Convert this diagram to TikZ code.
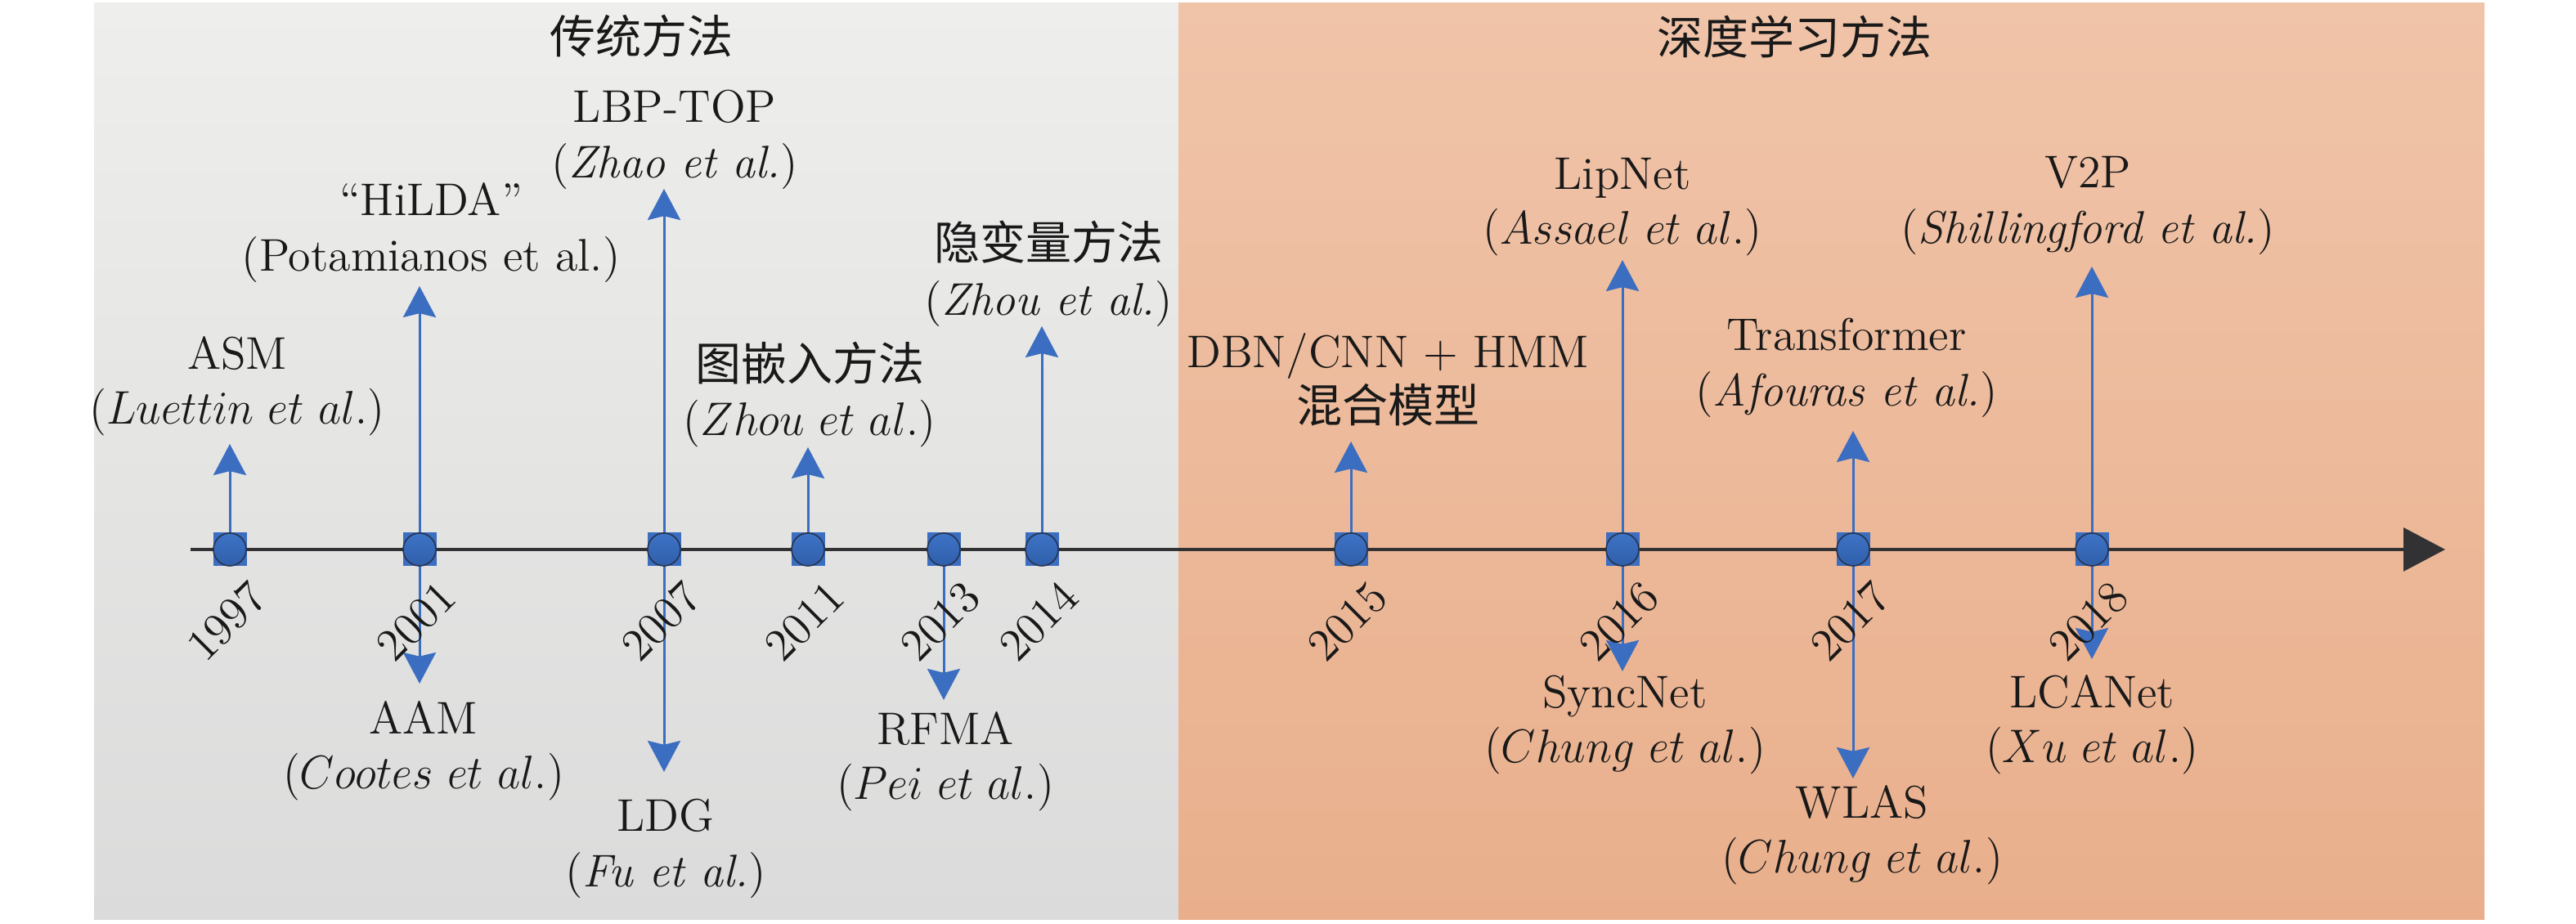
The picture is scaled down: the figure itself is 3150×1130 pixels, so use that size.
\documentclass[tikz,border=0pt]{standalone}
\usepackage{fontspec}
\usepackage{graphicx}
\newfontfamily\cjk{Noto Sans CJK SC}
\usetikzlibrary{arrows.meta,calc}
\definecolor{evblue}{RGB}{59,109,192}
\definecolor{dottop}{RGB}{62,115,198}
\definecolor{dotbot}{RGB}{47,95,170}
\definecolor{dotedge}{RGB}{40,52,78}
\definecolor{axiscol}{RGB}{50,50,52}
\definecolor{graytop}{RGB}{238,238,236}
\definecolor{graybot}{RGB}{219,219,219}
\definecolor{orgtop}{RGB}{240,196,169}
\definecolor{orgbot}{RGB}{233,175,140}
\definecolor{txt}{RGB}{25,25,25}
\newcommand\mymi[1]{\scalebox{0.95}[1]{$#1$}}
\pgfdeclarelayer{bg}
\pgfdeclarelayer{arr}
\pgfsetlayers{bg,arr,main}
\tikzset{
  fnt/.style={font=\fontsize{14}{16.8}\selectfont, text=txt},
  lbl/.style={fnt, align=center, inner sep=0pt, anchor=south},
  ttl/.style={fnt, inner sep=0pt},
  yearlbl/.style={fnt, inner sep=0pt, rotate=45},
  sq/.style={rectangle, fill=evblue, minimum size=10.25pt, inner sep=0pt},
  dot/.style={circle, draw=dotedge, line width=0.4pt, top color=dottop, bottom color=dotbot, minimum size=10pt, inner sep=0pt},
  evarrow/.style={draw=evblue, line width=0.75pt, -{Stealth[length=9.5pt,width=10pt,inset=1.2pt]}},
  axisline/.style={draw=axiscol, line width=0.85pt, -{Triangle[length=12.75pt,width=13.25pt]}}
}
\begin{document}
\begin{tikzpicture}[x=0.25pt,y=-0.25pt]
\useasboundingbox (0,0) rectangle (3150,1130);
\begin{pgfonlayer}{bg}
  \fill[top color=graytop, bottom color=graybot] (115,4) rectangle (1441,1125);
  \fill[top color=orgtop, bottom color=orgbot] (1441,4) rectangle (3038,1125);
\end{pgfonlayer}

% titles
\node[ttl] (t1) at (784,44) {\cjk 传统方法};
\node[ttl] (t2) at (2194,45) {\cjk 深度学习方法};

% axis
\coordinate (axs) at (233,672);
\coordinate (axe) at (2990,672);
\begin{pgfonlayer}{arr}
  \draw[axisline] (axs) -- (axe);
\end{pgfonlayer}

% markers and years
\foreach \yr/\xx in {1997/281,2001/513,2007/812,2011/988,2013/1154,2014/1274,2015/1652,2016/1984,2017/2266,2018/2558}{
  \node[sq] (m\yr) at (\xx,672) {};
  \node[dot] (c\yr) at (m\yr) {};
  \node[yearlbl] (y\yr) at (\xx-4,760) {\yr};
}

% arrow end points
\coordinate (u1997) at (281,543);
\coordinate (u2001) at (513,350);
\coordinate (u2007) at (812,231);
\coordinate (u2011) at (988,547);
\coordinate (u2014) at (1274,399);
\coordinate (u2015) at (1652,540);
\coordinate (u2016) at (1984,318);
\coordinate (u2017) at (2266,527);
\coordinate (u2018) at (2558,326);
\coordinate (d2001) at (513,836);
\coordinate (d2007) at (812,944);
\coordinate (d2013) at (1154,856);
\coordinate (d2016) at (1984,821);
\coordinate (d2017) at (2266,952);
\coordinate (d2018) at (2558,806);

\begin{pgfonlayer}{arr}
  \foreach \yr in {1997,2001,2007,2011,2014,2015,2016,2017,2018}{
    \draw[evarrow] (m\yr.center) -- (u\yr);
  }
  \foreach \yr in {2001,2007,2013,2016,2017,2018}{
    \draw[evarrow] (m\yr.center) -- (d\yr);
  }
\end{pgfonlayer}

% labels above
\node[lbl] (asm) at (290,534) {ASM\\\mymi{(Luettin\ et\ al.)}};
\node[lbl] (hilda) at (527,346) {“HiLDA”\\(Potamianos et al.)};
\node[lbl] (lbp) at (825,232) {LBP-TOP\\(\textit{Zhao et al.})};
\node[lbl] (graph) at (990,548) {{\cjk 图嵌入方法}\\\mymi{(Zhou\ et\ al.)}};
\node[lbl] (latent) at (1282,400) {{\cjk 隐变量方法}\\(\textit{Zhou et al.})};
\node[lbl] (dbn) at (1697,522) {DBN/CNN + HMM\\{\cjk 混合模型}};
\node[lbl] (lipnet) at (1984,314) {LipNet\\\mymi{(Assael\ et\ al.)}};
\node[lbl] (trans) at (2258,511) {Transformer\\(\textit{Afouras et al.})};
\node[lbl] (v2p) at (2553,312) {V2P\\(\textit{Shillingford et al.})};

% labels below
\node[lbl] (aam) at (518,980) {AAM\\\mymi{(Cootes\ et\ al.)}};
\node[lbl] (ldg) at (814,1099) {LDG\\(\textit{Fu et al.})};
\node[lbl] (rfma) at (1156,993) {RFMA\\\mymi{(Pei\ et\ al.)}};
\node[lbl] (sync) at (1987,948) {SyncNet\\\mymi{(Chung\ et\ al.)}};
\node[lbl] (wlas) at (2277,1083) {WLAS\\\mymi{(Chung\ et\ al.)}};
\node[lbl] (lca) at (2558,948) {LCANet\\\mymi{(Xu\ et\ al.)}};
\end{tikzpicture}
\end{document}
